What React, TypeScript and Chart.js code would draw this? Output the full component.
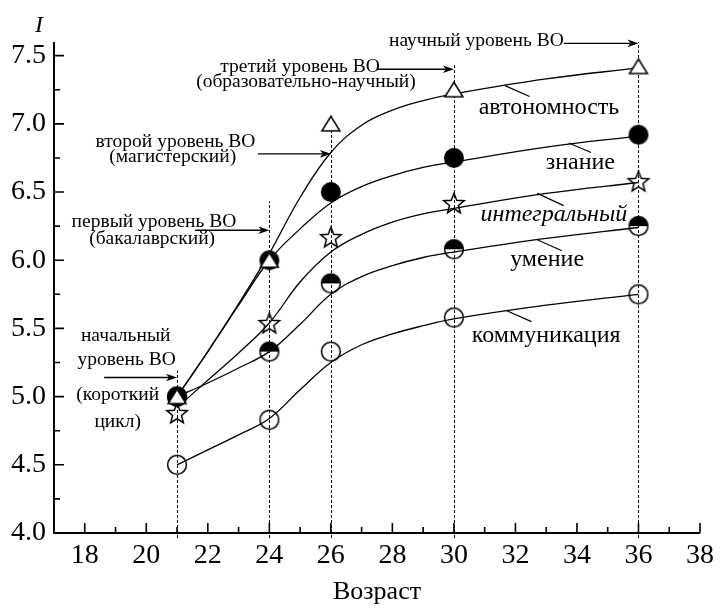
import React, { useEffect, useRef } from 'react';
import { Chart, registerables } from 'chart.js';

Chart.register(...registerables);

const FONT = '"Liberation Serif", "Times New Roman", serif';

// ---- measured points (age -> index I)
const ages = [21, 24, 26, 30, 36];
const avtonomnost = [5.0, 6.0, 7.0, 7.25, 7.42];
const znanie = [5.0, 6.0, 6.5, 6.75, 6.92];
const integralny = [4.88, 5.54, 6.17, 6.42, 6.58];
const umenie = [5.0, 5.33, 5.83, 6.08, 6.25];
const kommunikatsiya = [4.5, 4.83, 5.33, 5.58, 5.75];

// ---- fitted curves
const fitAges = [21, 22, 23, 24, 25, 26, 27, 28, 29, 30, 33, 36];
const fitAvtonomnost = [5.0, 5.33, 5.68, 6.05, 6.46, 6.79, 6.99, 7.1, 7.17, 7.22, 7.33, 7.41];
const fitZnanie = [5.0, 5.33, 5.67, 6.0, 6.23, 6.42, 6.54, 6.62, 6.68, 6.72, 6.83, 6.91];
const fitIntegralny = [4.92, 5.12, 5.32, 5.54, 5.84, 6.06, 6.19, 6.28, 6.34, 6.38, 6.49, 6.57];
const fitUmenie = [5.0, 5.1, 5.21, 5.33, 5.53, 5.75, 5.88, 5.96, 6.02, 6.06, 6.16, 6.24];
const fitKommunikatsiya = [4.5, 4.61, 4.72, 4.84, 5.05, 5.25, 5.38, 5.46, 5.52, 5.57, 5.67, 5.75];

// ---- axes
const xTicks = [18, 20, 22, 24, 26, 28, 30, 32, 34, 36, 38];
const xMinor = [19, 21, 23, 25, 27, 29, 31, 33, 35, 37];
const yTicks = [4.0, 4.5, 5.0, 5.5, 6.0, 6.5, 7.0, 7.5];
const yMinor = [4.25, 4.75, 5.25, 5.75, 6.25, 6.75, 7.25];

// ---- education levels (dashed verticals + arrows)
const levelAges = [21, 24, 26, 30, 36];
const levelTops = [5.19, 6.43, 7.06, 7.43, 7.6];
const arrowFrom = [18.63, 21.59, 23.63, 27.52, 33.57];
const arrowLevel = [5.14, 6.22, 6.78, 7.4, 7.59];

// [text, x (age), y (I baseline)]
const levelTexts: [string, number, number][] = [
  ['начальный', 19.33, 5.41],
  ['уровень ВО', 19.36, 5.23],
  ['(короткий', 19.07, 4.975],
  ['цикл)', 19.07, 4.78],
  ['первый уровень ВО', 20.25, 6.24],
  ['(бакалаврский)', 20.19, 6.12],
  ['второй уровень ВО', 20.95, 6.83],
  ['(магистерский)', 20.86, 6.72],
  ['третий уровень ВО', 25.0, 7.38],
  ['(образовательно-научный)', 25.19, 7.27],
  ['научный уровень ВО', 30.73, 7.57],
];

// curve labels
const seriesNames = ['автономность', 'знание', 'интегральный', 'умение', 'коммуникация'];
const seriesLabelPos: [number, number][] = [[33.09, 7.07], [34.11, 6.67], [33.25, 6.29], [33.03, 5.96], [33.0, 5.4]];
const seriesLeaders: [number, number, number, number][] = [
  [31.66, 7.28, 32.46, 7.2],
  [33.73, 6.86, 34.46, 6.79],
  [32.71, 6.49, 33.57, 6.4],
  [32.71, 6.15, 33.51, 6.07],
  [31.72, 5.63, 32.52, 5.55],
];
const seriesItalic = [false, false, true, false, false];

function makeMarker(kind: string): HTMLCanvasElement {
  const s = 26;
  const c = document.createElement('canvas');
  c.width = s;
  c.height = s;
  const g = c.getContext('2d')!;
  const cx = s / 2;
  const cy = s / 2;
  g.lineWidth = 1.5;
  g.strokeStyle = '#000';
  g.fillStyle = '#000';
  if (kind === 'circleOpen') {
    g.beginPath();
    g.arc(cx, cy, 9.4, 0, Math.PI * 2);
    g.stroke();
  } else if (kind === 'circleFilled') {
    g.beginPath();
    g.arc(cx, cy, 10, 0, Math.PI * 2);
    g.fill();
  } else if (kind === 'circleHalf') {
    g.beginPath();
    g.arc(cx, cy, 9.4, Math.PI, Math.PI * 2);
    g.closePath();
    g.fill();
    g.beginPath();
    g.arc(cx, cy, 9.4, 0, Math.PI * 2);
    g.stroke();
  } else if (kind === 'triangle') {
    g.beginPath();
    g.moveTo(cx, cy - 7.5);
    g.lineTo(cx + 9, cy + 7);
    g.lineTo(cx - 9, cy + 7);
    g.closePath();
    g.fillStyle = '#fff';
    g.fill();
    g.stroke();
  } else if (kind === 'star') {
    const R = 10.8;
    const r = 4.7;
    g.beginPath();
    for (let i = 0; i < 10; i++) {
      const ang = -Math.PI / 2 + (i * Math.PI) / 5;
      const rad = i % 2 === 0 ? R : r;
      const px = cx + rad * Math.cos(ang);
      const py = cy + 1 + rad * Math.sin(ang);
      if (i === 0) g.moveTo(px, py);
      else g.lineTo(px, py);
    }
    g.closePath();
    g.stroke();
  }
  return c;
}

const annotationPlugin = {
  id: 'levelAnnotations',
  beforeDatasetsDraw(chart: any) {
    const { ctx } = chart;
    const x = chart.scales.x;
    const y = chart.scales.y;
    ctx.save();
    ctx.strokeStyle = '#000';
    ctx.lineWidth = 1;
    ctx.setLineDash([3, 2]);
    levelAges.forEach((a, i) => {
      const px = Math.round(x.getPixelForValue(a)) + 0.5;
      ctx.beginPath();
      ctx.moveTo(px, y.bottom + 5);
      ctx.lineTo(px, y.getPixelForValue(levelTops[i]));
      ctx.stroke();
    });
    ctx.restore();
  },
  afterDraw(chart: any) {
    const { ctx } = chart;
    const x = chart.scales.x;
    const y = chart.scales.y;
    const area = chart.chartArea;
    ctx.save();
    ctx.strokeStyle = '#000';
    ctx.fillStyle = '#000';
    ctx.setLineDash([]);

    // axis lines
    ctx.lineWidth = 2;
    ctx.beginPath();
    ctx.moveTo(area.left, area.top);
    ctx.lineTo(area.left, area.bottom);
    ctx.lineTo(area.right, area.bottom);
    ctx.stroke();

    // ticks (inward)
    ctx.lineWidth = 1.6;
    ctx.beginPath();
    xTicks.forEach((t) => {
      const px = x.getPixelForValue(t);
      ctx.moveTo(px, area.bottom);
      ctx.lineTo(px, area.bottom - 10);
    });
    xMinor.forEach((t) => {
      const px = x.getPixelForValue(t);
      ctx.moveTo(px, area.bottom);
      ctx.lineTo(px, area.bottom - 6);
    });
    yTicks.forEach((t) => {
      const py = y.getPixelForValue(t);
      ctx.moveTo(area.left, py);
      ctx.lineTo(area.left + 10, py);
    });
    yMinor.forEach((t) => {
      const py = y.getPixelForValue(t);
      ctx.moveTo(area.left, py);
      ctx.lineTo(area.left + 6, py);
    });
    ctx.stroke();

    // arrows
    levelAges.forEach((a, i) => {
      const x1 = x.getPixelForValue(arrowFrom[i]);
      const x2 = x.getPixelForValue(a);
      const py = y.getPixelForValue(arrowLevel[i]);
      ctx.lineWidth = 1.4;
      ctx.beginPath();
      ctx.moveTo(x1, py);
      ctx.lineTo(x2 - 8, py);
      ctx.stroke();
      ctx.beginPath();
      ctx.moveTo(x2, py);
      ctx.lineTo(x2 - 11, py - 3.8);
      ctx.lineTo(x2 - 8, py);
      ctx.lineTo(x2 - 11, py + 3.8);
      ctx.closePath();
      ctx.fill();
    });

    // level texts
    ctx.font = `19.5px ${FONT}`;
    ctx.textAlign = 'center';
    ctx.textBaseline = 'alphabetic';
    levelTexts.forEach(([txt, tx, ty]) => {
      ctx.fillText(txt, x.getPixelForValue(tx), y.getPixelForValue(ty));
    });

    // series labels and leaders
    seriesNames.forEach((name, i) => {
      ctx.font = `${seriesItalic[i] ? 'italic ' : ''}24px ${FONT}`;
      const [lx, ly] = seriesLabelPos[i];
      ctx.fillText(name, x.getPixelForValue(lx), y.getPixelForValue(ly));
      const [a1, b1, a2, b2] = seriesLeaders[i];
      ctx.lineWidth = 1.2;
      ctx.beginPath();
      ctx.moveTo(x.getPixelForValue(a1), y.getPixelForValue(b1));
      ctx.lineTo(x.getPixelForValue(a2), y.getPixelForValue(b2));
      ctx.stroke();
    });

    // y axis symbol
    ctx.font = `italic 24px ${FONT}`;
    ctx.fillText('I', area.left - 15, area.top - 10);
    ctx.restore();
  },
};

export default function App() {
  const ref = useRef<HTMLCanvasElement>(null);

  useEffect(() => {
    const canvas = ref.current;
    if (!canvas) return;
    const toXY = (xs: number[], ys: number[]) => xs.map((v, i) => ({ x: v, y: ys[i] }));

    const pointSets = [
      { label: seriesNames[0], values: avtonomnost, marker: makeMarker('triangle') },
      { label: seriesNames[1], values: znanie, marker: makeMarker('circleFilled') },
      { label: seriesNames[3], values: umenie, marker: makeMarker('circleHalf') },
      { label: seriesNames[2], values: integralny, marker: makeMarker('star') },
      { label: seriesNames[4], values: kommunikatsiya, marker: makeMarker('circleOpen') },
    ];
    const curveSets = [
      { label: seriesNames[0] + ' (fit)', values: fitAvtonomnost },
      { label: seriesNames[1] + ' (fit)', values: fitZnanie },
      { label: seriesNames[2] + ' (fit)', values: fitIntegralny },
      { label: seriesNames[3] + ' (fit)', values: fitUmenie },
      { label: seriesNames[4] + ' (fit)', values: fitKommunikatsiya },
    ];

    const datasets: any[] = [
      ...pointSets.map((p) => ({
        label: p.label,
        data: toXY(ages, p.values),
        showLine: false,
        pointStyle: p.marker,
        pointRadius: 10,
        pointHoverRadius: 10,
        borderColor: '#000',
        backgroundColor: '#000',
        clip: false,
      })),
      ...curveSets.map((c) => ({
        label: c.label,
        data: toXY(fitAges, c.values),
        showLine: true,
        pointRadius: 0,
        pointHoverRadius: 0,
        borderColor: '#000',
        borderWidth: 1.3,
        tension: 0.4,
        fill: false,
        clip: false,
      })),
    ];

    const chart = new Chart(canvas, {
      type: 'scatter',
      data: { datasets },
      options: {
        responsive: false,
        animation: false,
        events: [],
        layout: { padding: { left: 0, right: 8, top: 34, bottom: 0 } },
        plugins: {
          legend: { display: false },
          tooltip: { enabled: false },
          title: { display: false },
        },
        scales: {
          x: {
            type: 'linear',
            min: 17,
            max: 38,
            grid: { display: false, drawTicks: false },
            border: { display: false },
            afterFit: (s: any) => {
              s.height = 79;
            },
            afterBuildTicks: (s: any) => {
              s.ticks = xTicks.map((v) => ({ value: v }));
            },
            ticks: {
              padding: 6,
              color: '#000',
              font: { family: FONT, size: 28 },
              maxRotation: 0,
              autoSkip: false,
              callback: (v: any) => String(v),
            },
            title: {
              display: true,
              text: 'Возраст',
              color: '#000',
              font: { family: FONT, size: 26 },
              padding: { top: 0, bottom: 4 },
            },
          },
          y: {
            type: 'linear',
            min: 4,
            max: 7.6,
            grid: { display: false, drawTicks: false },
            border: { display: false },
            afterFit: (s: any) => {
              s.width = 46;
            },
            afterBuildTicks: (s: any) => {
              s.ticks = yTicks.map((v) => ({ value: v }));
            },
            ticks: {
              padding: 8,
              color: '#000',
              font: { family: FONT, size: 28 },
              autoSkip: false,
              callback: (v: any) => Number(v).toFixed(1),
            },
          },
        },
      },
      plugins: [annotationPlugin],
    } as any);

    return () => chart.destroy();
  }, []);

  return (
    <canvas
      ref={ref}
      width={712}
      height={604}
      style={{ display: 'block', width: 712, height: 604 }}
    />
  );
}
